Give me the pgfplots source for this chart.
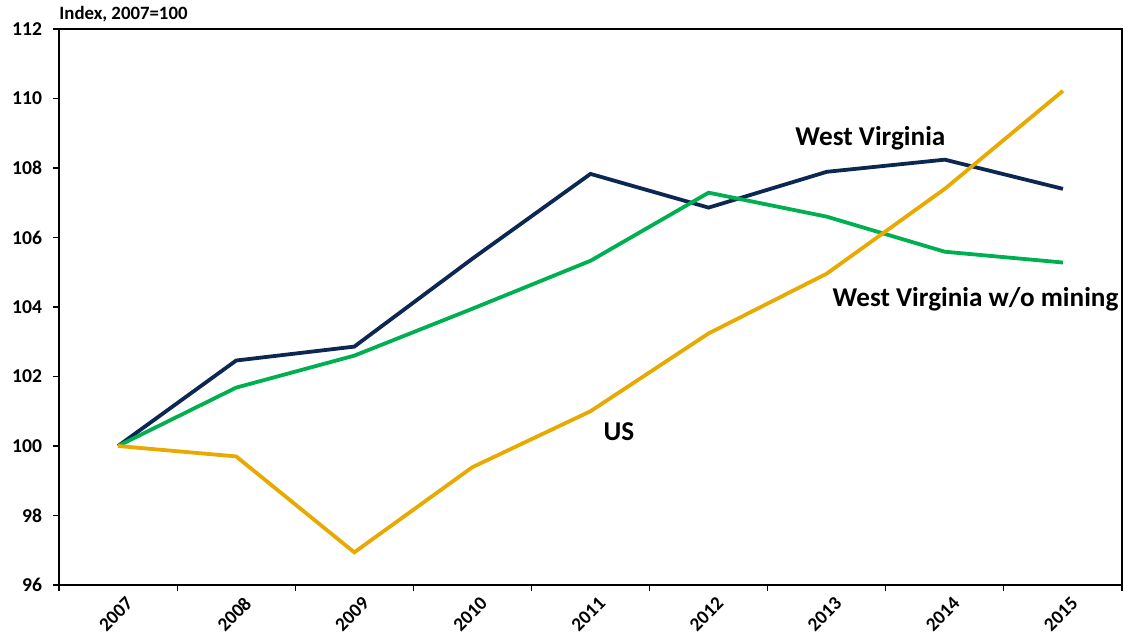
\documentclass[border=0pt]{standalone}
\usepackage{pgfplots}
\pgfplotsset{compat=1.18}
\usepackage{fontspec}
\setmainfont{Carlito}
\definecolor{wvnavy}{RGB}{12,40,82}
\definecolor{wvgreen}{RGB}{0,176,80}
\definecolor{usgold}{RGB}{232,170,0}
\begin{document}
\begin{tikzpicture}
\useasboundingbox (-29.5pt,-29pt) rectangle (533pt,292.5pt);
\begin{axis}[
  at={(0,0)}, anchor=south west,
  scale only axis, width=531.5pt, height=278pt,
  xmin=-0.5, xmax=8.5, ymin=96, ymax=112,
  ytick={96,98,...,112},
  xtick={0,...,8},
  xticklabels={2007,2008,2009,2010,2011,2012,2013,2014,2015},
  minor xtick={-0.5,0.5,...,8.5},
  x tick label style={rotate=45, anchor=north east, inner sep=1pt, font=\bfseries\fontsize{9.6}{11}\selectfont, xshift=2pt, yshift=-3pt},
  y tick label style={font=\bfseries\fontsize{9.8}{12}\selectfont, xshift=-2pt},
  /pgf/number format/assume math mode=true,
  axis line style={line width=0.9pt},
  tick style={black, line width=0.6pt},
  ytick pos=left, xtick pos=bottom,
  tick align=outside,
  major x tick style={draw=none},
  major tick length=3pt,
  minor tick length=3pt,
  clip=false,
]
\addplot[wvnavy, line width=1.9pt] coordinates {
(0,100) (1,102.46) (2,102.86) (3,105.39) (4,107.83) (5,106.86) (6,107.89) (7,108.24) (8,107.4)};
\addplot[wvgreen, line width=1.9pt] coordinates {
(0,100) (1,101.68) (2,102.6) (3,103.95) (4,105.33) (5,107.29) (6,106.6) (7,105.59) (8,105.28)};
\addplot[usgold, line width=1.9pt] coordinates {
(0,100) (1,99.7) (2,96.94) (3,99.39) (4,101.0) (5,103.24) (6,104.96) (7,107.4) (8,110.22)};
\node[font=\bfseries\fontsize{13.6}{16}\selectfont] at (axis cs:6.37,108.87) {West Virginia};
\node[font=\bfseries\fontsize{13.6}{16}\selectfont] at (axis cs:7.26,104.21) {West Virginia w/o mining};
\node[font=\bfseries\fontsize{13.6}{16}\selectfont] at (axis cs:4.24,100.42) {US};
\node[anchor=south west, font=\bfseries\fontsize{9.4}{11}\selectfont, inner sep=0pt] at ([yshift=3.5pt]rel axis cs:0,1) {Index, 2007=100};
\end{axis}
\end{tikzpicture}
\end{document}
